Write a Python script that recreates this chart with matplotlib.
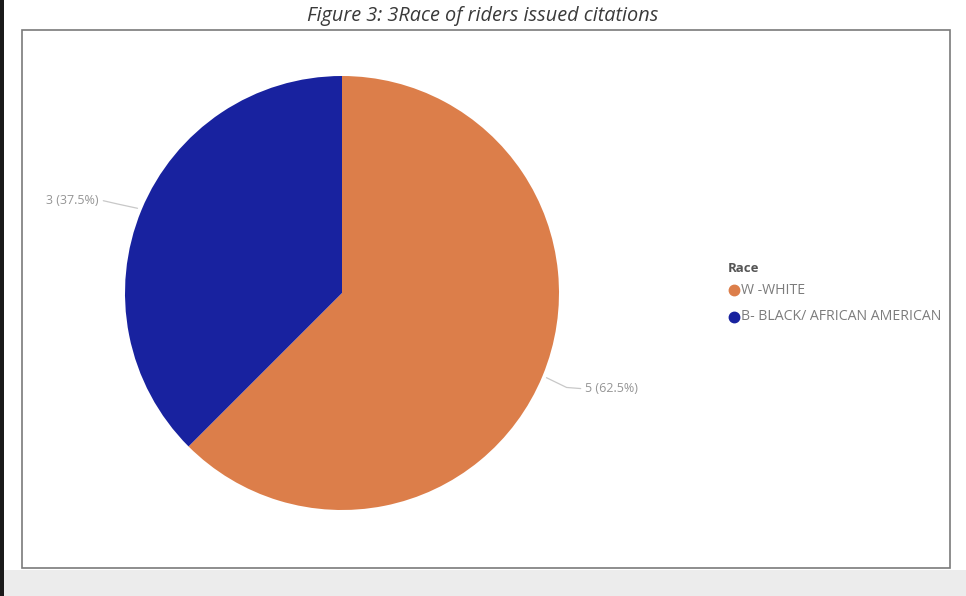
import numpy as np
import matplotlib.pyplot as plt
from matplotlib.patches import Rectangle
from matplotlib.lines import Line2D

# data
races = ["W -WHITE", "B- BLACK/ AFRICAN AMERICAN"]
counts = [5, 3]
colors = ["#DC7E4A", "#18229F"]
title = "Figure 3: 3Race of riders issued citations"

W, H = 966, 596
fig = plt.figure(figsize=(W / 100, H / 100), dpi=100)
fig.patch.set_facecolor("white")

def fx(px):
    return px / W

def fy(py):
    return 1 - py / H

# screen-capture bits: grey strip at bottom, dark edge at left
fig.patches.append(Rectangle((0, 0), 1, fy(570), transform=fig.transFigure,
                             facecolor="#ececec", edgecolor="none", zorder=0))
fig.patches.append(Rectangle((0, 0), fx(4), 1, transform=fig.transFigure,
                             facecolor="#1a1a1a", edgecolor="none", zorder=3))

# visual frame
fig.patches.append(Rectangle((fx(22), fy(568)), fx(950) - fx(22), fy(30) - fy(568),
                             transform=fig.transFigure, facecolor="white",
                             edgecolor="#7a7a7a", lw=1.2, zorder=0.5))

fig.text(fx(483), fy(16), title, ha="center", va="center", fontsize=14.3,
         style="italic", family="Open Sans", color="#3a3a3a")

# pie axes: centre (342, 293), radius 217 px
cx, cy, r = 342, 293, 217
ax = fig.add_axes([fx(cx - r), fy(cy + r), 2 * r / W, 2 * r / H])
ax.set_zorder(2)
wedges, _ = ax.pie(counts, colors=colors, startangle=90, counterclock=False,
                   radius=1, wedgeprops=dict(linewidth=0))
ax.set_xlim(-1, 1)
ax.set_ylim(-1, 1)
ax.set_aspect("auto")
ax.axis("off")

total = sum(counts)
for w, c in zip(wedges, counts):
    ang = np.deg2rad((w.theta1 + w.theta2) / 2)
    x0, y0 = 1.02 * np.cos(ang), 1.02 * np.sin(ang)
    side = np.sign(np.cos(ang))
    if side < 0:
        x1, y1, y2 = -1.035, y0 + 0.02, y0 + 0.035
    else:
        x1, y1, y2 = 1.035, y0 - 0.045, y0 - 0.05
    x2 = side * 1.10
    ax.plot([x0, x1, x2], [y0, y1, y2], color="#c8c8c8", lw=0.9,
            clip_on=False, solid_capstyle="round")
    ax.text(x2 + side * 0.02, y2, f"{c} ({c / total * 100:.1f}%)",
            ha="left" if side > 0 else "right", va="center", fontsize=9,
            family="Open Sans", color="#959595", clip_on=False)

# legend, laid out like the Power BI one
fig.text(fx(728), fy(268), "Race", ha="left", va="center", fontsize=9.5,
         fontweight="bold", family="Open Sans", color="#555555")
for i, (lab, c) in enumerate(zip(races, colors)):
    ly = 290 + 27 * i
    fig.add_artist(Line2D([fx(734)], [fy(ly)], marker="o", markersize=7.5,
                          markerfacecolor=c, markeredgecolor=c,
                          transform=fig.transFigure))
    fig.text(fx(741), fy(ly), lab, ha="left", va="center", fontsize=10.2,
             family="Open Sans", color="#7c7c7c")

fig.savefig("out.png", dpi=100, facecolor="white")
